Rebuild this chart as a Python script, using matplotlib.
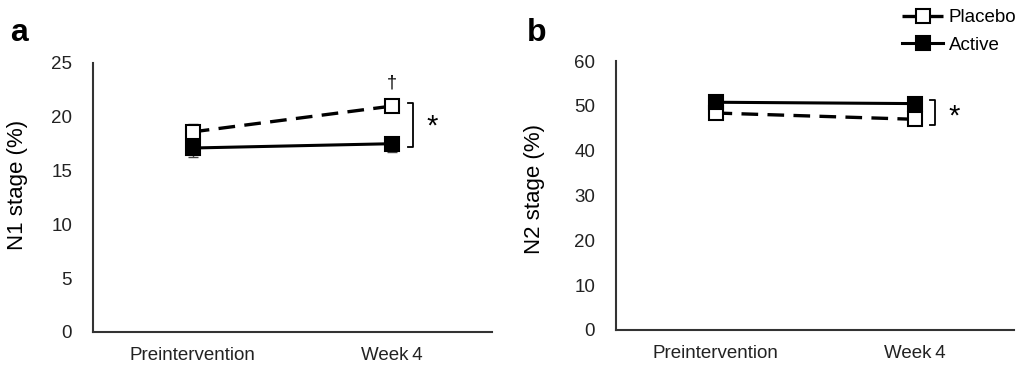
import matplotlib.pyplot as plt
from matplotlib.lines import Line2D

plt.rcParams['font.family'] = ['Liberation Sans', 'DejaVu Sans']

timepoints = ['Preintervention', 'Week\u20094']
x = [0, 1]

# panel a: N1 stage (%)
n1_placebo = [18.6, 21.0]
n1_placebo_err = [0.7, 0.7]
n1_active = [17.1, 17.5]
n1_active_err = [0.8, 0.8]

# panel b: N2 stage (%)
n2_placebo = [48.4, 47.0]
n2_placebo_err = [0.9, 0.9]
n2_active = [50.8, 50.5]
n2_active_err = [0.9, 0.9]

fig = plt.figure(figsize=(10.24, 3.77), dpi=100)
W, H = 1024, 377
ax1 = fig.add_axes([93 / W, 1 - 332 / H, 399 / W, 269 / H])
ax2 = fig.add_axes([616 / W, 1 - 330 / H, 398 / W, 269 / H])

dash = (0, (5, 2.8))


def draw(ax, plc, plc_err, act, act_err, ymax, step, ylabel, label_xy):
    # one-sided error bars: placebo upward, active downward
    ax.errorbar(x, plc, yerr=[[0, 0], plc_err], fmt='none', ecolor='#444444',
                elinewidth=1, capsize=3.5, zorder=2)
    ax.errorbar(x, act, yerr=[act_err, [0, 0]], fmt='none', ecolor='#444444',
                elinewidth=1, capsize=3.5, zorder=2)
    ax.plot(x, plc, color='black', lw=2.4, ls=dash, marker='s', ms=9.5,
            mfc='white', mec='black', mew=1.5, zorder=3)
    ax.plot(x, act, color='black', lw=2.2, ls='-', marker='s', ms=9.5,
            mfc='black', mec='black', mew=1.5, zorder=3)
    ax.set_xlim(-0.5, 1.5)
    ax.set_ylim(0, ymax)
    ax.set_yticks(range(0, ymax + 1, step))
    ax.set_xticks(x)
    ax.set_xticklabels(timepoints)
    ax.tick_params(length=0, labelsize=13.5, colors='#222222')
    ax.tick_params(axis='x', pad=11)
    ax.tick_params(axis='y', pad=15)
    ax.set_ylabel(ylabel, fontsize=16)
    ax.yaxis.set_label_coords(*label_xy)
    for s in ['top', 'right']:
        ax.spines[s].set_visible(False)
    for s in ['left', 'bottom']:
        ax.spines[s].set_linewidth(1.5)
        ax.spines[s].set_color('#333333')


draw(ax1, n1_placebo, n1_placebo_err, n1_active, n1_active_err, 25, 5,
     'N1 stage (%)', (-0.163, 0.545))
draw(ax2, n2_placebo, n2_placebo_err, n2_active, n2_active_err, 60, 10,
     'N2 stage (%)', (-0.178, 0.525))


# significance brackets
def bracket(ax, y_top, y_bot, star_y):
    bx = 1.08
    ax.plot([bx, bx + 0.025, bx + 0.025, bx], [y_top, y_top, y_bot, y_bot],
            color='black', lw=1.3, clip_on=False)
    ax.text(bx + 0.12, star_y, '*', fontsize=21, ha='center', va='center')


bracket(ax1, n1_placebo[1] + 0.3, n1_active[1] - 0.3, (n1_placebo[1] + n1_active[1]) / 2 - 0.2)
ax1.text(1, n1_placebo[1] + 2.1, '\u2020', fontsize=13, ha='center', va='center')
bracket(ax2, n2_active[1] + 0.8, n2_placebo[1] - 1.3, (n2_active[1] + n2_placebo[1]) / 2 - 1.2)

fig.text(10 / W, 1 - 33 / H, 'a', fontsize=23, fontweight='bold', va='center')
fig.text(527 / W, 1 - 33 / H, 'b', fontsize=23, fontweight='bold', va='center')

handles = [
    Line2D([], [], color='black', lw=2.4, ls=dash, marker='s', ms=9.5,
           mfc='white', mec='black', mew=1.5),
    Line2D([], [], color='black', lw=2.2, marker='s', ms=9.5,
           mfc='black', mec='black', mew=1.5),
]
fig.legend(handles, ['Placebo', 'Active'], loc='upper right',
           bbox_to_anchor=(1026 / W, 1.0), frameon=False,
           fontsize=13.5, handlelength=2.2, handletextpad=0.3, labelspacing=0.55,
           borderaxespad=0.1)

fig.savefig('out.png', dpi=100)
